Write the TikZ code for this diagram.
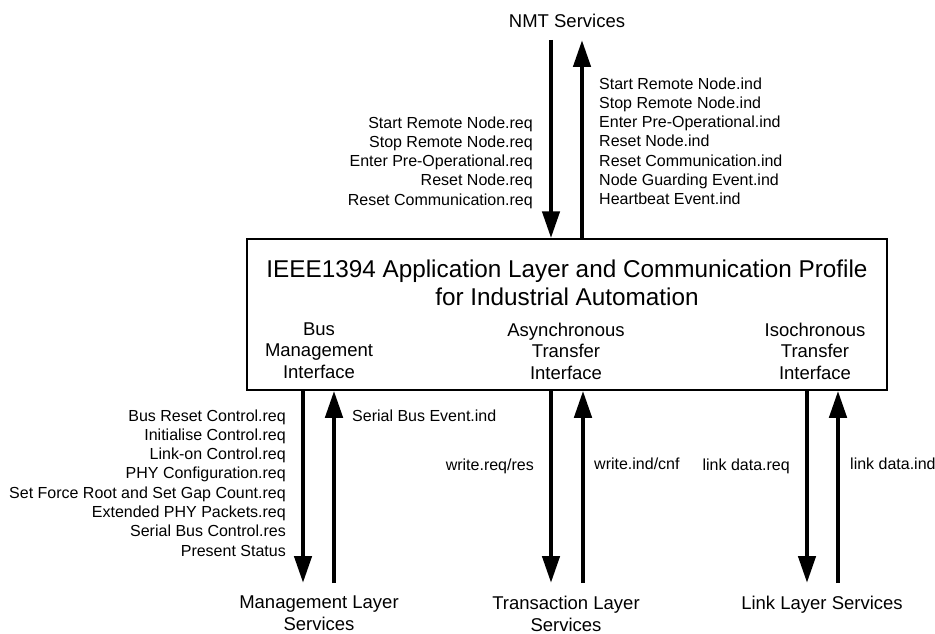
\documentclass[tikz,border=0pt]{standalone}
\usepackage{fontspec}
\setmainfont{Liberation Sans}
\usetikzlibrary{arrows.meta}
\begin{document}
\begin{tikzpicture}[x=1pt,y=-1pt,
  lbl/.style={inner sep=0pt, font=\fontsize{16}{19.3}\selectfont},
  ifc/.style={inner sep=0pt, align=center, font=\fontsize{18.5}{21.5}\selectfont},
  ttl/.style={inner sep=0pt, align=center, font=\fontsize{24.3}{28}\selectfont},
  mainbox/.style={draw, line width=1.5pt, minimum width=640pt, minimum height=151pt, inner sep=0pt},
  arr/.style={line width=4.5pt, -{Triangle[length=27pt,width=17pt]}}
]
\fill[white] (0,0) rectangle (935,634);
\useasboundingbox (0,0) rectangle (935,634);

% main box
\node[mainbox] (box) at (567,314.5) {};
\node[ttl, anchor=north] (title) at (567,259.4) {IEEE1394 Application Layer and Communication Profile\\for Industrial Automation};
\node[ifc, anchor=north] (bmi) at (319,322.4) {Bus\\Management\\Interface};
\node[ifc, anchor=north] (ati) at (566,322.4) {Asynchronous\\Transfer\\Interface};
\node[ifc, anchor=north] (iti) at (815,322.4) {Isochronous\\Transfer\\Interface};

% service nodes
\node[ifc, anchor=north] (nmt) at (567,13.4) {NMT Services};
\node[ifc, anchor=north] (mls) at (319,596) {Management Layer\\Services};
\node[ifc, anchor=north] (tls) at (566,596) {Transaction Layer\\Services};
\node[ifc, anchor=north] (lls) at (822,596) {Link Layer Services};

% arrow free ends
\coordinate (nA) at (551,40);
\coordinate (nB) at (582,40);
\coordinate (mA) at (303,583);
\coordinate (mB) at (334,583);
\coordinate (tA) at (551,583);
\coordinate (tB) at (583,583);
\coordinate (lA) at (807,583);
\coordinate (lB) at (838,583);

\draw[arr] (nA) -- (box.north -| nA);
\draw[arr] (box.north -| nB) -- (nB);
\draw[arr] (box.south -| mA) -- (mA);
\draw[arr] (mB) -- (box.south -| mB);
\draw[arr] (box.south -| tA) -- (tA);
\draw[arr] (tB) -- (box.south -| tB);
\draw[arr] (box.south -| lA) -- (lA);
\draw[arr] (lB) -- (box.south -| lB);

% labels
\node[lbl, align=right, anchor=north east] (nmtreq) at (533,116.3) {Start Remote Node.req\\Stop Remote Node.req\\Enter Pre-Operational.req\\Reset Node.req\\Reset Communication.req};
\node[lbl, align=left, anchor=north west] (nmtind) at (599,77.3) {Start Remote Node.ind\\Stop Remote Node.ind\\Enter Pre-Operational.ind\\Reset Node.ind\\Reset Communication.ind\\Node Guarding Event.ind\\Heartbeat Event.ind};
\node[lbl, align=right, anchor=north east] (busreq) at (286,409.3) {Bus Reset Control.req\\Initialise Control.req\\Link-on Control.req\\PHY Configuration.req\\Set Force Root and Set Gap Count.req\\Extended PHY Packets.req\\Serial Bus Control.res\\Present Status};
\node[lbl, anchor=north west] (busind) at (352,409.3) {Serial Bus Event.ind};
\node[lbl, anchor=north east] (wreq) at (534,458.3) {write.req/res};
\node[lbl, anchor=north west] (wind) at (594,457.3) {write.ind/cnf};
\node[lbl, anchor=north east] (ldreq) at (790,458.3) {link data.req};
\node[lbl, anchor=north west] (ldind) at (850,457.3) {link data.ind};
\end{tikzpicture}
\end{document}
